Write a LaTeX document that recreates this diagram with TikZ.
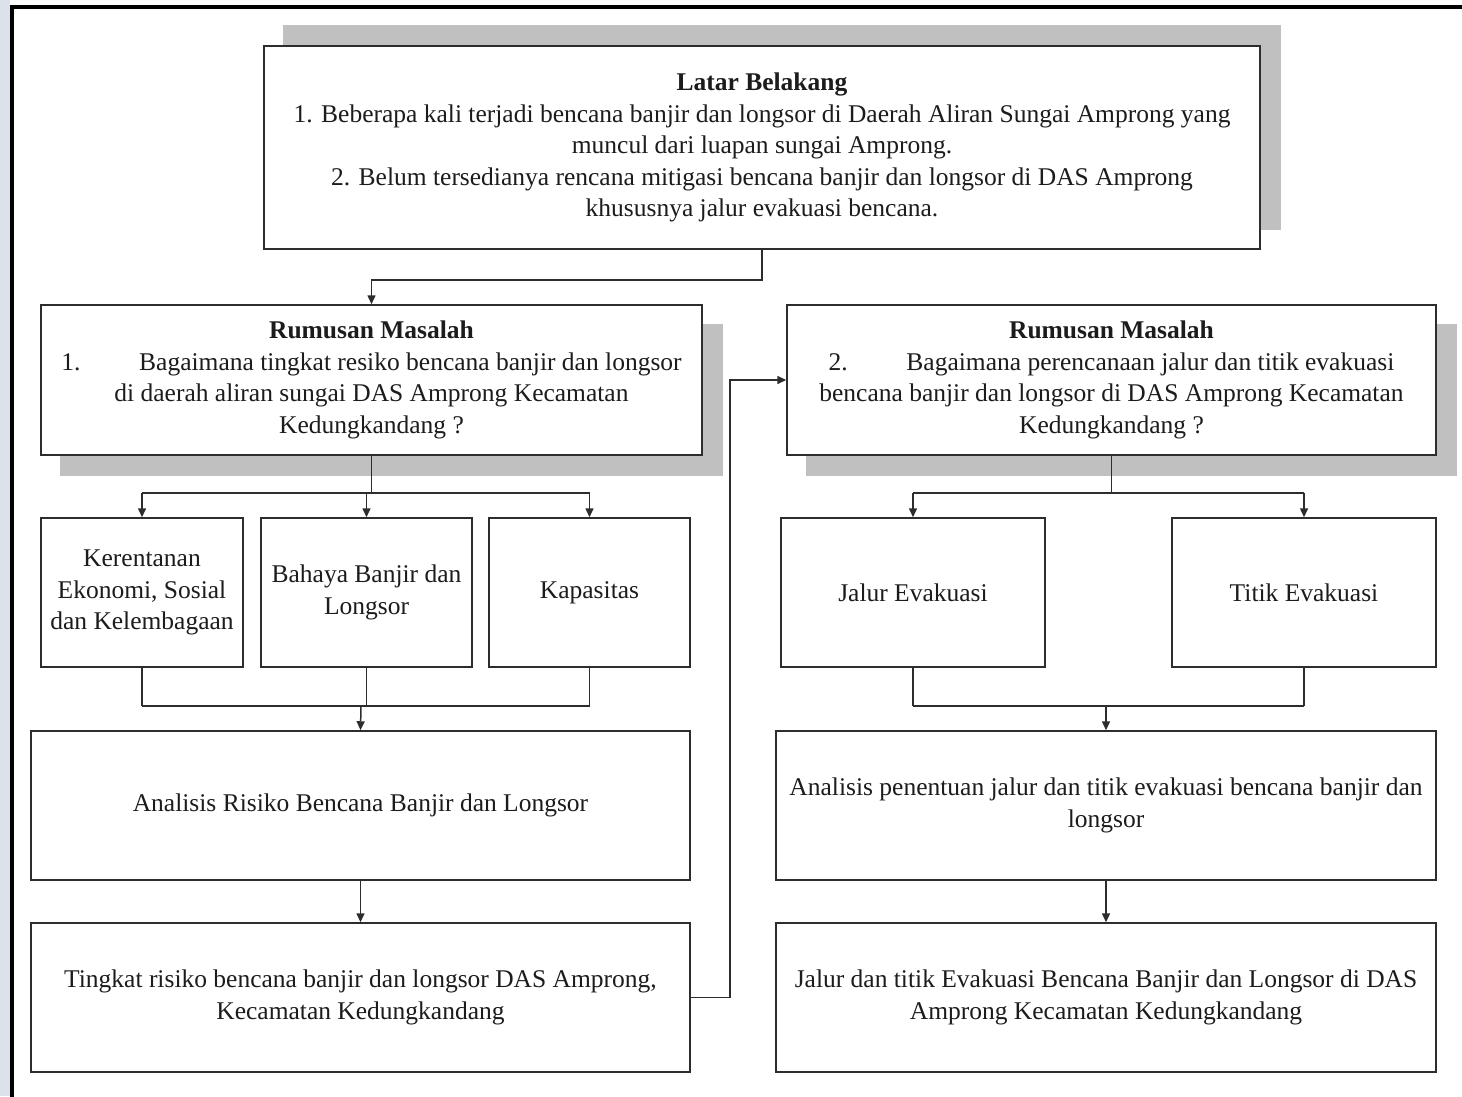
\documentclass[tikz,border=0pt]{standalone}
\usepackage{fontspec}
\setmainfont{Liberation Serif}
\usetikzlibrary{positioning, arrows.meta, backgrounds}
\definecolor{stripgrey}{RGB}{221, 225, 236}
\definecolor{shadowgrey}{RGB}{192, 192, 192}
\definecolor{boxline}{RGB}{45, 45, 45}
\definecolor{textgrey}{RGB}{28, 28, 28}
\newcommand{\boxshadow}[3]{
\fill[shadowgrey] ([shift={(#2,#3)}]#1.south west) rectangle ([shift={(#2,#3)}]#1.north east);
}

\begin{document}
\begin{tikzpicture}[x=1pt, y=-1pt,
    font=\fontsize{25.5}{31.5}\selectfont,
    box/.style={draw=boxline, line width=1.5pt, fill=white, align=center,
        inner sep=0pt, text=textgrey, minimum height=149pt},
    link/.style={line width=1.5pt, draw=boxline, -{Triangle[length=9pt, width=8pt]}},
    wire/.style={line width=1.5pt, draw=boxline}]
    \useasboundingbox (0,0) rectangle (1462,1096);
    \fill[stripgrey] (0,0) rectangle (10,1096);
    \draw[line width=4pt, line cap=rect] (12,1096) -- (12,6.5) -- (1462,6.5);

    % boxes
    \node[box, minimum width=996pt, minimum height=203pt] (latar) at (762,147.5)
        {\textbf{Latar Belakang}\\
        1. Beberapa kali terjadi bencana banjir dan longsor di Daerah Aliran Sungai Amprong yang\\
        muncul dari luapan sungai Amprong.\\
        2. Belum tersedianya rencana mitigasi bencana banjir dan longsor di DAS Amprong\\
        khususnya jalur evakuasi bencana.};
    \node[box, minimum width=661pt, minimum height=150pt] (rm1) at (371.5,380)
        {\textbf{Rumusan Masalah}\\
        1.\hspace{2.3em}Bagaimana tingkat resiko bencana banjir dan longsor\\
        di daerah aliran sungai DAS Amprong Kecamatan\\
        Kedungkandang ?};
    \node[box, minimum width=649pt, minimum height=150pt] (rm2) at (1111.5,380)
        {\textbf{Rumusan Masalah}\\
        2.\hspace{2.3em}Bagaimana perencanaan jalur dan titik evakuasi\\
        bencana banjir dan longsor di DAS Amprong Kecamatan\\
        Kedungkandang ?};
    \node[box, minimum width=202pt] (ker) at (142,592.5) {Kerentanan\\Ekonomi, Sosial\\dan Kelembagaan};
    \node[box, minimum width=211pt] (bah) at (366.5,592.5) {Bahaya Banjir dan\\Longsor};
    \node[box, minimum width=201pt] (kap) at (589.5,592.5) {Kapasitas};
    \node[box, minimum width=264pt] (jal) at (913,592.5) {Jalur Evakuasi};
    \node[box, minimum width=264pt] (tit) at (1304,592.5) {Titik Evakuasi};
    \node[box, minimum width=659pt] (anl) at (360.5,805.5) {Analisis Risiko Bencana Banjir dan Longsor};
    \node[box, minimum width=660pt] (anr) at (1106,805.5)
        {Analisis penentuan jalur dan titik evakuasi bencana banjir dan\\longsor};
    \node[box, minimum width=659pt] (tkt) at (360.5,997.5)
        {Tingkat risiko bencana banjir dan longsor DAS Amprong,\\Kecamatan Kedungkandang};
    \node[box, minimum width=660pt] (hsl) at (1106,997.5)
        {Jalur dan titik Evakuasi Bencana Banjir dan Longsor di DAS\\Amprong Kecamatan Kedungkandang};

    \begin{scope}[on background layer]
        \boxshadow{latar}{20}{-20}
        \boxshadow{rm1}{20}{20}
        \boxshadow{rm2}{20}{20}
    \end{scope}

    % connectors
    \coordinate (m1) at (361,706);
    \coordinate (m2) at (1106,706);
    \draw[link] (latar.south) -- ++(0,30) -| (rm1.north);

    \draw[wire] (rm1.south) -- ++(0,37) coordinate (s1);
    \draw[wire] (ker.north |- s1) -- (kap.north |- s1);
    \foreach \b in {ker,bah,kap}
        \draw[link] (\b.north |- s1) -- (\b.north);
    \foreach \b in {ker,bah,kap}
        \draw[wire] (\b.south) -- (\b.south |- m1);
    \draw[wire] (ker.south |- m1) -- (kap.south |- m1);
    \draw[link] (m1) -- (anl.north);
    \draw[link] (anl.south) -- (tkt.north);
    \draw[link] (tkt.east) -- ++(39,0) |- (rm2.west);

    \draw[wire] (rm2.south) -- ++(0,37) coordinate (s2);
    \draw[wire] (jal.north |- s2) -- (tit.north |- s2);
    \foreach \b in {jal,tit}
        \draw[link] (\b.north |- s2) -- (\b.north);
    \foreach \b in {jal,tit}
        \draw[wire] (\b.south) -- (\b.south |- m2);
    \draw[wire] (jal.south |- m2) -- (tit.south |- m2);
    \draw[link] (m2) -- (anr.north);
    \draw[link] (anr.south) -- (hsl.north);
\end{tikzpicture}
\end{document}
